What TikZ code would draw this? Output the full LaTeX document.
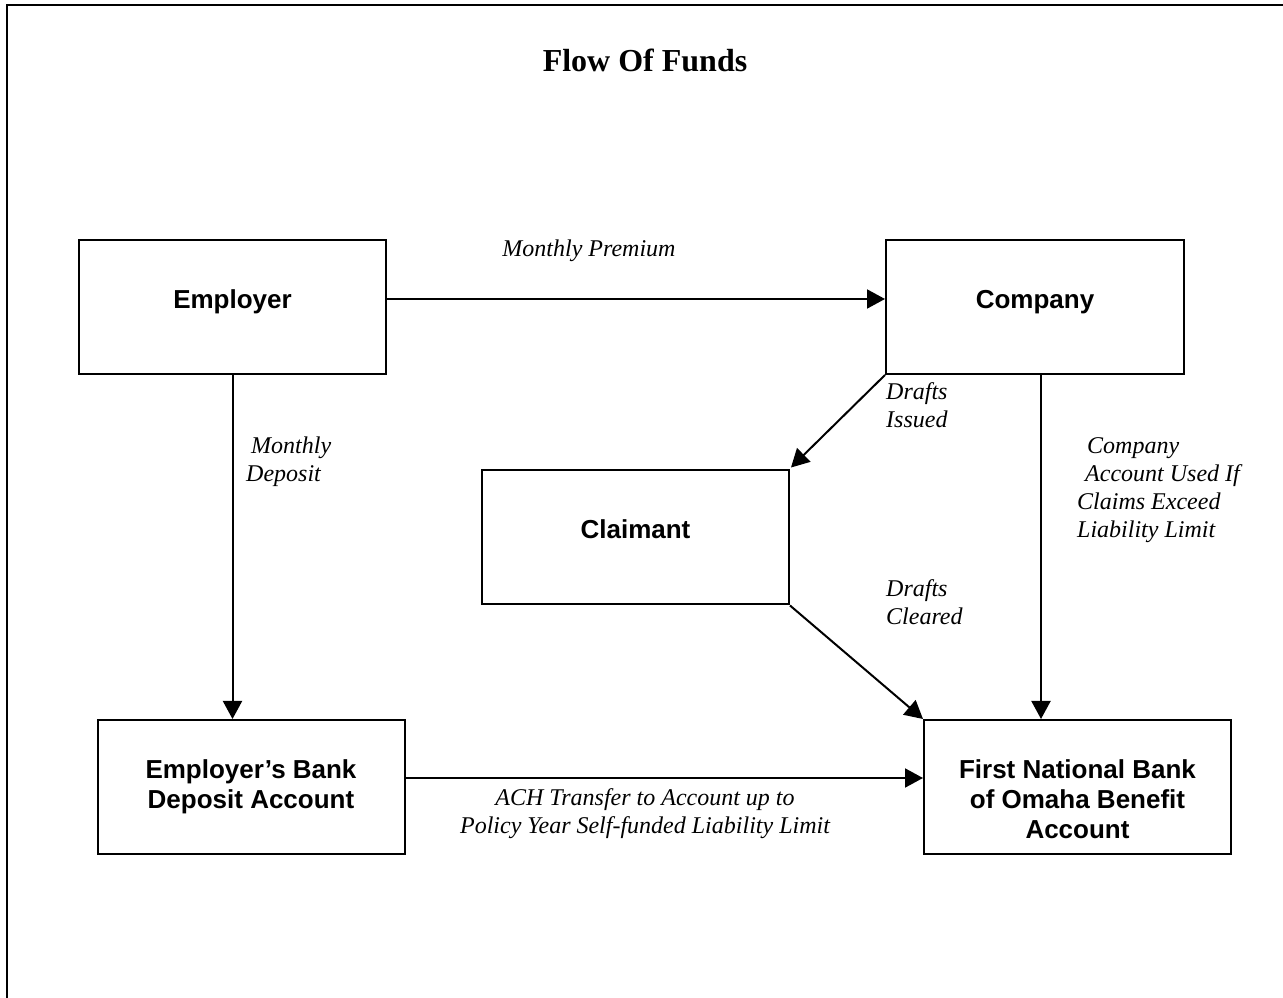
\documentclass[tikz,border=0pt]{standalone}
\usepackage{fontspec}
\setmainfont{Liberation Serif}
\setsansfont{Liberation Sans}
\usetikzlibrary{positioning,arrows.meta}

\begin{document}
\begin{tikzpicture}
[x=1pt, y=1pt, node distance = 498pt,
box/.style={draw, line width=2pt, minimum width=307pt, minimum height=134pt, align=center, font=\sffamily\bfseries\fontsize{26}{30}\selectfont},
lbl/.style={font=\itshape\fontsize{24}{28}\selectfont, align=left, inner sep=0pt},
flow/.style={-{Triangle[length=18pt,width=19pt]}, line width=2pt}]

\useasboundingbox (0,0) rectangle (1283,997);
\draw[line width=2.5pt] (7,-2) -- (7,992) -- (1290,992);

\node (title) at (645,937) {\fontsize{32}{38}\selectfont\bfseries Flow Of Funds};

\node[box, text depth=16pt] (emp) at (232.5,690) {Employer};
\node[box, text depth=16pt, minimum width=298pt, right=of emp] (comp) {Company};
\node[box, text depth=16pt] (clm) at (635.5,459.5) {Claimant};
\node[box] (ebank) at (251,210) {Employer’s Bank\\Deposit Account};
\node[box, text height=103pt] (fnb) at (1077.5,210) {First National Bank\\of Omaha Benefit\\Account};

\draw[flow] ([yshift=8pt]emp.east) -- ([yshift=8pt]comp.west);
\draw[flow] (emp.south) -- (emp.south |- ebank.north);
\draw[flow] (comp.south west) -- ([shift={(1pt,2pt)}]clm.north east);
\draw[flow] (clm.south east) -- (fnb.north west);
\draw[flow] ([xshift=6pt]comp.south) -- ([xshift=6pt]comp.south |- fnb.north);
\draw[flow] ([yshift=9pt]ebank.east) -- ([yshift=9pt]ebank.east -| fnb.west);

\node[lbl] (prem) at (589,746) {Monthly Premium};
\node[lbl, anchor=west] (dep) at (246,535) {\hspace*{5pt}Monthly\\Deposit};
\node[lbl, anchor=west] (iss) at (886,592) {Drafts\\Issued};
\node[lbl, anchor=west] (clr) at (886,395) {Drafts\\Cleared};
\node[lbl, anchor=west] (used) at (1077,507) {\hspace*{10pt}Company\\\hspace*{8pt}Account Used If\\Claims Exceed\\Liability Limit};
\node[lbl, align=center] (ach) at (645,183) {ACH Transfer to Account up to\\Policy Year Self-funded Liability Limit};
\end{tikzpicture}
\end{document}
